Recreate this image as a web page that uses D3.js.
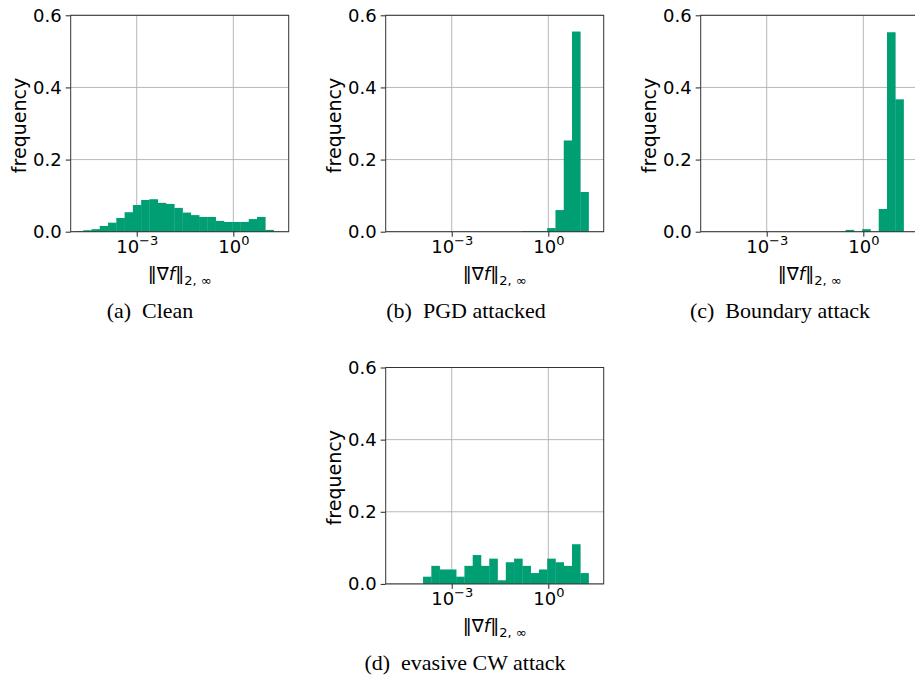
<!DOCTYPE html>
<html>
<head>
<meta charset="utf-8">
<script src="https://cdn.jsdelivr.net/npm/d3@7"></script>
<style>
  html, body { margin: 0; padding: 0; background: #fff; }
  svg { display: block; }
</style>
</head>
<body>
<div id="chart"></div>
<script>
// ---- data ----
// log10 of histogram bin edges (shared by all panels)
const binEdgesLog10 = [-4.918, -4.661, -4.404, -4.147, -3.890, -3.633, -3.376, -3.119, -2.862, -2.605,
  -2.348, -2.091, -1.834, -1.577, -1.320, -1.063, -0.806, -0.549, -0.292, -0.035,
  0.222, 0.479, 0.736, 0.993, 1.250];
const cleanFreq = [0.001, 0.004, 0.007, 0.016, 0.025, 0.038, 0.054, 0.074, 0.088, 0.090,
  0.080, 0.077, 0.066, 0.053, 0.046, 0.041, 0.041, 0.030, 0.027, 0.027,
  0.027, 0.035, 0.041, 0.005];
const pgdFreq = [0, 0, 0, 0, 0, 0, 0, 0, 0, 0,
  0, 0, 0, 0, 0, 0, 0.002, 0.002, 0.002, 0.010,
  0.060, 0.253, 0.555, 0.110];
const boundaryFreq = [0, 0, 0, 0, 0, 0, 0, 0, 0, 0,
  0, 0, 0, 0, 0, 0, 0, 0.005, 0, 0.007,
  0, 0.063, 0.553, 0.367];
const cwFreq = [0, 0, 0, 0, 0.02, 0.05, 0.04, 0.04, 0.02, 0.05,
  0.08, 0.05, 0.07, 0.01, 0.06, 0.07, 0.05, 0.03, 0.04, 0.07,
  0.06, 0.05, 0.11, 0.03];
const captions = ["(a)\u2002Clean", "(b)\u2002PGD attacked", "(c)\u2002Boundary attack", "(d)\u2002evasive CW attack"];
const yTicks = [0.0, 0.2, 0.4, 0.6];
const xTickExps = [-3, 0];
const xDomainLog10 = [-5.05, 1.72];

// ---- layout ----
const W = 915, H = 677;
const pw = 218, ph = 216.4;
const panels = [
  { freq: cleanFreq, left: 70.7, top: 15.3, cap: captions[0], capX: 150, capY: 318 },
  { freq: pgdFreq, left: 385.7, top: 15.3, cap: captions[1], capX: 466, capY: 318 },
  { freq: boundaryFreq, left: 700.7, top: 15.3, cap: captions[2], capX: 780, capY: 318 },
  { freq: cwFreq, left: 385.7, top: 367.5, cap: captions[3], capX: 465, capY: 670 }
];
const green = "#009e73";
const sans = "'DejaVu Sans', sans-serif";
const serif = "'Liberation Serif', 'Times New Roman', serif";

const svg = d3.select("#chart").append("svg")
  .attr("width", W).attr("height", H)
  .attr("viewBox", `0 0 ${W} ${H}`);
svg.append("rect").attr("width", W).attr("height", H).attr("fill", "#fff");

panels.forEach(p => {
  const g = svg.append("g").attr("transform", `translate(${p.left},${p.top})`);
  const x = d3.scaleLog()
    .domain(xDomainLog10.map(e => Math.pow(10, e)))
    .range([0, pw]);
  const y = d3.scaleLinear().domain([0, 0.6]).range([ph, 0]);

  // grid
  g.append("g").selectAll("line").data(xTickExps).join("line")
    .attr("x1", d => x(Math.pow(10, d))).attr("x2", d => x(Math.pow(10, d)))
    .attr("y1", 0).attr("y2", ph)
    .attr("stroke", "#b0b0b0").attr("stroke-width", 0.9);
  g.append("g").selectAll("line").data(yTicks).join("line")
    .attr("x1", 0).attr("x2", pw)
    .attr("y1", d => y(d)).attr("y2", d => y(d))
    .attr("stroke", "#b0b0b0").attr("stroke-width", 0.9);

  // bars
  const bins = p.freq.map((v, i) => ({ x0: Math.pow(10, binEdgesLog10[i]), x1: Math.pow(10, binEdgesLog10[i + 1]), v }));
  g.append("g").selectAll("rect").data(bins.filter(b => b.v > 0)).join("rect")
    .attr("x", d => x(d.x0))
    .attr("width", d => x(d.x1) - x(d.x0) + 0.3)
    .attr("y", d => y(d.v))
    .attr("height", d => Math.max(ph - y(d.v), 0.6))
    .attr("fill", green);

  // axes
  const yAxis = d3.axisLeft(y).tickValues(yTicks).tickFormat(d3.format(".1f")).tickSize(5).tickPadding(4);
  const ya = g.append("g").call(yAxis);
  ya.select(".domain").remove();
  ya.selectAll("line").attr("stroke", "#222").attr("stroke-width", 1);
  ya.selectAll("text").attr("font-family", sans).attr("font-size", 18).attr("fill", "#000");

  const xAxis = d3.axisBottom(x).tickValues(xTickExps.map(e => Math.pow(10, e))).tickFormat("").tickSize(5);
  const xa = g.append("g").attr("transform", `translate(0,${ph})`).call(xAxis);
  xa.select(".domain").remove();
  xa.selectAll("line").attr("stroke", "#222").attr("stroke-width", 1);
  xa.selectAll(".tick").each(function (d) {
    const e = Math.round(Math.log10(d));
    const t = d3.select(this).append("text")
      .attr("y", 21)
      .attr("text-anchor", "middle")
      .attr("font-family", sans).attr("font-size", 18).attr("fill", "#000");
    t.append("tspan").text("10");
    t.append("tspan").attr("dy", -7.5).attr("font-size", 13).text(e < 0 ? "\u2212" + (-e) : String(e));
  });

  // spines
  g.append("rect").attr("x", 0).attr("y", 0).attr("width", pw).attr("height", ph)
    .attr("fill", "none").attr("stroke", "#333").attr("stroke-width", 1);

  // y label
  g.append("text")
    .attr("transform", `translate(-50,${ph / 2 + 2}) rotate(-90)`)
    .attr("dy", "0.3em")
    .attr("text-anchor", "middle")
    .attr("font-family", sans).attr("font-size", 19).attr("fill", "#000")
    .text("frequency");

  // x label
  const xl = g.append("text")
    .attr("x", pw / 2).attr("y", ph + 48)
    .attr("text-anchor", "middle")
    .attr("font-family", sans).attr("font-size", 18).attr("fill", "#000");
  xl.append("tspan").text("\u2016\u2207");
  xl.append("tspan").attr("font-style", "italic").text("f");
  xl.append("tspan").text("\u2016");
  xl.append("tspan").attr("dy", 5).attr("font-size", 13).text("2, \u221e");

  // caption
  svg.append("text")
    .attr("x", p.capX).attr("y", p.capY)
    .attr("text-anchor", "middle")
    .attr("font-family", serif).attr("font-size", 22).attr("fill", "#000")
    .text(p.cap);
});
</script>
</body>
</html>
